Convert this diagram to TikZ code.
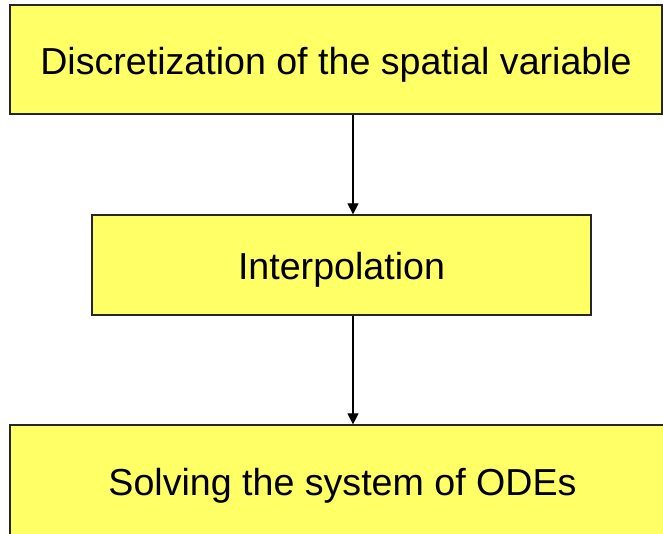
\documentclass[tikz,border=0pt]{standalone}
\usepackage{fontspec}
\setmainfont{Liberation Sans}
\usetikzlibrary{arrows.meta}

\definecolor{boxyellow}{RGB}{255,255,102}

\begin{document}
\begin{tikzpicture}[x=1pt,y=1pt,
  stepbox/.style={draw=black!85, line width=1.3pt, fill=boxyellow, inner sep=0pt,
    font=\fontsize{37.6}{40}\selectfont},
  arr/.style={line width=1.3pt, -{Triangle[width=11pt,length=11pt]}}]

  % Page frame
  \useasboundingbox (0,0) rectangle (663,534);
  \clip (0,0) rectangle (663,534);
  \fill[white] (0,0) rectangle (663,534);

  % Boxes
  \node[stepbox, minimum width=652, minimum height=109] (disc) at (336,474.5)
    {\raisebox{-5pt}[\height][\depth]{Discretization of the spatial variable}};
  \node[stepbox, minimum width=499, minimum height=100] (interp) at (341.5,269)
    {\raisebox{-5pt}[\height][\depth]{Interpolation}};
  \node[stepbox, minimum width=665, minimum height=120] (solve) at (342.5,49)
    {\raisebox{-1pt}[\height][\depth]{Solving the system of ODEs}};

  % Arrows
  \coordinate (ax) at (353,0);
  \draw[arr] (disc.south -| ax) -- (interp.north -| ax);
  \draw[arr] (interp.south -| ax) -- (solve.north -| ax);

\end{tikzpicture}
\end{document}
